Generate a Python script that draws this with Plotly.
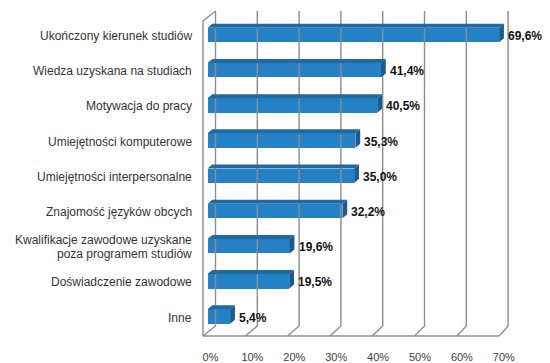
import plotly.graph_objects as go

# Survey answers and their shares (%)
categories = [
    "Ukończony kierunek studiów",
    "Wiedza uzyskana na studiach",
    "Motywacja do pracy",
    "Umiejętności komputerowe",
    "Umiejętności interpersonalne",
    "Znajomość języków obcych",
    "Kwalifikacje zawodowe uzyskane<br>poza programem studiów",
    "Doświadczenie zawodowe",
    "Inne",
]
values = [69.6, 41.4, 40.5, 35.3, 35.0, 32.2, 19.6, 19.5, 5.4]
tick_values = [0, 10, 20, 30, 40, 50, 60, 70]

W, H = 550, 363
BOTTOM = 18
# pixel <-> data mapping of the bar plane (plot area spans the full width)
X0, SX = 207.5, 4.19     # px of 0 %, px per 1 %
Y0, SY = 35.0, 35.19     # px of first row centre, px per row
xd = lambda px: (px - X0) / SX
yd = lambda py: (py - Y0) / SY

x_range = [xd(0), xd(W)]
y_range = [yd(H - BOTTOM), yd(0)]

FRONT = "#2481c6"
TOP = "#1f6aa3"
SIDE = "#1a5c92"
GRID = "#8e8e8e"

# oblique depth of the bars
DX = 4.8 / SX
DY = -4.0 / SY
HALF = 0.206

fig = go.Figure()

# back-wall gridlines with their floor diagonals, floor edge and left wall
gx, gy = [], []
for v in tick_values:
    bx = 215.5 + 4.18 * v
    fx = 203.0 + 4.23 * v
    gx += [xd(bx), xd(bx), xd(fx), None]
    gy += [yd(11), yd(326), yd(336), None]
gx += [xd(203), xd(203 + 4.23 * 70), None]
gy += [yd(336), yd(336), None]
gx += [xd(215.5), xd(203), xd(203), None]
gy += [yd(11), yd(21), yd(336), None]
fig.add_trace(go.Scatter(x=gx, y=gy, mode="lines",
                         line=dict(color=GRID, width=1.4),
                         hoverinfo="skip", showlegend=False))

rows = list(range(len(categories)))

# front faces of the bars
fig.add_trace(go.Bar(x=values, y=rows, orientation="h", base=0,
                     width=2 * HALF, marker=dict(color=FRONT, line=dict(width=0)),
                     showlegend=False, hoverinfo="skip"))

# top and side faces
tx, ty, sx, sy = [], [], [], []
for i, v in enumerate(values):
    top, bot = i - HALF, i + HALF
    tx += [0, v, v + DX, DX, 0, None]
    ty += [top, top, top + DY, top + DY, top, None]
    sx += [v, v + DX, v + DX, v, v, None]
    sy += [top, top + DY, bot + DY, bot, top, None]
fig.add_trace(go.Scatter(x=tx, y=ty, mode="lines", fill="toself",
                         fillcolor=TOP, line=dict(width=0, color=TOP),
                         hoverinfo="skip", showlegend=False))
fig.add_trace(go.Scatter(x=sx, y=sy, mode="lines", fill="toself",
                         fillcolor=SIDE, line=dict(width=0, color=SIDE),
                         hoverinfo="skip", showlegend=False))

annotations = []
# category labels
for i, label in enumerate(categories):
    lines = label.split("<br>")
    n = len(lines)
    for j, line in enumerate(lines):
        annotations.append(dict(
            x=xd(194), y=i, xref="x", yref="y", text=line, showarrow=False,
            xanchor="right", yanchor="middle",
            yshift=((n - 1) / 2 - j) * 14 - 1,
            font=dict(family="Liberation Sans, Arial, sans-serif", size=12, color="#333333"),
        ))
# value labels
for i, v in enumerate(values):
    annotations.append(dict(
        x=v, y=i, xref="x", yref="y",
        text="<b>" + f"{v:.1f}".replace(".", ",") + "%</b>",
        showarrow=False, xanchor="left", yanchor="middle", xshift=7, yshift=-1,
        font=dict(family="Liberation Sans, Arial, sans-serif", size=12, color="#111111"),
    ))

fig.update_layout(
    width=W, height=H,
    margin=dict(l=0, r=0, t=0, b=BOTTOM),
    paper_bgcolor="white", plot_bgcolor="white",
    bargap=0,
    annotations=annotations,
    xaxis=dict(range=x_range, tickvals=tick_values, ticktext=[f"{v}%" for v in tick_values],
               showgrid=False, zeroline=False, showline=False, ticks="",
               ticklabelshift=3, ticklabelstandoff=4,
               tickfont=dict(family="Liberation Sans, Arial, sans-serif", size=11, color="#404040"),
               fixedrange=True),
    yaxis=dict(range=y_range, showgrid=False, zeroline=False, showline=False,
               showticklabels=False, ticks="", fixedrange=True),
)

fig.write_html("out.html")
